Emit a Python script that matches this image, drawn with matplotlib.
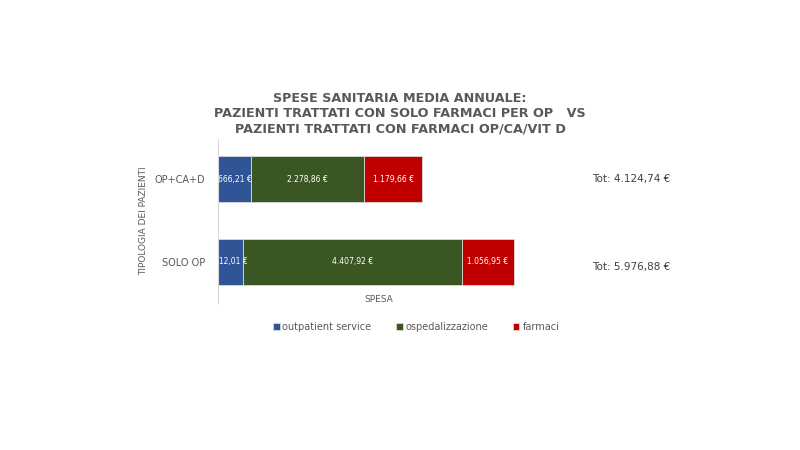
import matplotlib
matplotlib.use("Agg")
import matplotlib.pyplot as plt

# data
categories = ["SOLO OP", "OP+CA+D"]
outpatient = [512.01, 666.21]
ospedal = [4407.92, 2278.86]
farmaci = [1056.95, 1179.66]
totals = ["Tot: 5.976,88 €", "Tot: 4.124,74 €"]

series = [
    ("outpatient service", outpatient, "#2F5597"),
    ("ospedalizzazione", ospedal, "#3A5723"),
    ("farmaci", farmaci, "#C00000"),
]


def eur(v):
    s = f"{v:,.2f}"
    return s.replace(",", "X").replace(".", ",").replace("X", ".") + " €"


fig = plt.figure(figsize=(8, 4.5), dpi=100)
ax = fig.add_axes([0.2725, 0.327, 0.4025, 0.364])

y = range(len(categories))
left = [0.0] * len(categories)
for name, vals, col in series:
    ax.barh(y, vals, left=left, height=0.56, color=col, label=name,
            edgecolor="#d9d9d9", linewidth=0.6)
    for i, v in enumerate(vals):
        ax.text(left[i] + v / 2, i, eur(v), ha="center", va="center",
                color="white", fontsize=5.5, clip_on=True)
    left = [a + b for a, b in zip(left, vals)]

for i, t in enumerate(totals):
    ax.text(7550, i - 0.06 * (1 - i), t, ha="left", va="center",
            fontsize=7.5, color="#404040", clip_on=False)

ax.set_xlim(0, 6500)
ax.set_ylim(-0.5, 1.49)
ax.set_yticks(list(y))
ax.set_yticklabels(categories, fontsize=7, color="#595959")
ax.set_xticks([])
ax.tick_params(axis="y", length=0, pad=9)
for s in ["top", "right", "bottom"]:
    ax.spines[s].set_visible(False)
ax.spines["left"].set_color("#d9d9d9")

ax.set_xlabel("SPESA", fontsize=6.5, color="#595959")
ax.xaxis.set_label_coords(0.5, 0.045)
ax.set_ylabel("TIPOLOGIA DEI PAZIENTI", fontsize=6.5, color="#595959", labelpad=5)

fig.text(0.5, 0.748,
         "SPESE SANITARIA MEDIA ANNUALE:\n"
         "PAZIENTI TRATTATI CON SOLO FARMACI PER OP   VS\n"
         "PAZIENTI TRATTATI CON FARMACI OP/CA/VIT D",
         ha="center", va="center", fontsize=9.2, fontweight="bold",
         color="#595959", linespacing=1.22)

fig.legend(loc="center", bbox_to_anchor=(0.52, 0.273), ncol=3, frameon=False,
           fontsize=7, handlelength=0.7, handleheight=0.7, handletextpad=0.3,
           columnspacing=2.5, labelcolor="#595959")

plt.savefig("out.png", dpi=100)
